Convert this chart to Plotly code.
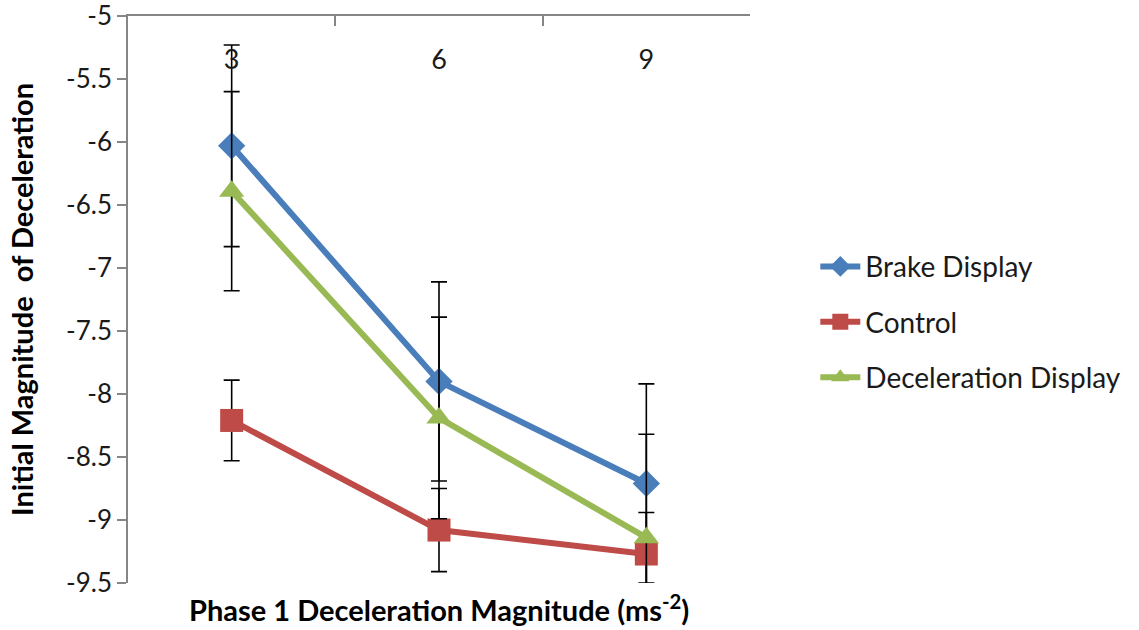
import plotly.graph_objects as go

# Phase 1 deceleration magnitudes (ms^-2)
categories = ["3", "6", "9"]

brake_display = [-6.03, -7.90, -8.71]
brake_err = [0.80, 0.79, 0.79]

control = [-8.21, -9.08, -9.27]
control_err = [0.32, 0.33, 0.33]

decel_display = [-6.39, -8.19, -9.14]
decel_err = [0.79, 0.80, 0.82]

y_ticks = [-5, -5.5, -6, -6.5, -7, -7.5, -8, -8.5, -9, -9.5]

FONT = "Lato"
TEXT = "#1a1a1a"
AXIS = "#868686"

series = [
    ("Brake Display", brake_display, brake_err, "#4a7ebb", "diamond", 21),
    ("Control", control, control_err, "#be4b48", "square", 23),
    ("Deceleration Display", decel_display, decel_err, "#98b954", "triangle-up", 22),
]

fig = go.Figure()
for i, (name, vals, err, color, symbol, msize) in enumerate(series):
    fig.add_trace(go.Scatter(
        x=categories,
        y=vals,
        name=name,
        legendgroup=f"g{i}",
        mode="lines+markers",
        line=dict(color=color, width=6),
        marker=dict(symbol=symbol, size=msize, color=color,
                    line=dict(width=0)),
        error_y=dict(type="data", array=err, visible=True,
                     color="black", thickness=1.6, width=8),
    ))

# carrier for the category labels that sit just under the top axis line
fig.add_trace(go.Scatter(
    x=categories, y=[None] * len(categories), xaxis="x2",
    showlegend=False, hoverinfo="skip", mode="markers",
))

fig.update_layout(
    width=1139,
    height=630,
    margin=dict(l=128, r=389, t=16, b=47, autoexpand=False),
    paper_bgcolor="white",
    plot_bgcolor="white",
    font=dict(family=FONT, size=24, color=TEXT),
    showlegend=True,
    legend=dict(
        x=1.105, xanchor="left",
        y=0.46, yanchor="middle",
        font=dict(size=28, color=TEXT),
        tracegroupgap=16,
        itemwidth=40,
        bgcolor="rgba(0,0,0,0)",
    ),
    xaxis=dict(
        type="category",
        side="top",
        range=[-0.5, 2.5],
        categoryarray=categories,
        showline=True,
        linecolor=AXIS,
        linewidth=1.5,
        ticks="inside",
        ticklen=10,
        tickcolor=AXIS,
        tickwidth=1.5,
        tickson="boundaries",
        showticklabels=False,
        showgrid=False,
        zeroline=False,
        automargin=False,
    ),
    xaxis2=dict(
        type="category",
        overlaying="x",
        anchor="free",
        position=0.897,
        side="top",
        range=[-0.5, 2.5],
        categoryarray=categories,
        showline=False,
        ticks="",
        showgrid=False,
        zeroline=False,
        automargin=False,
        tickfont=dict(size=27, family=FONT, color=TEXT),
    ),
    yaxis=dict(
        range=[-9.5, -5],
        tickvals=y_ticks,
        ticktext=[f"{v:g}" for v in y_ticks],
        ticklabeloverflow="allow",
        showline=True,
        linecolor=AXIS,
        linewidth=1.5,
        ticks="outside",
        ticklen=9,
        tickcolor=AXIS,
        tickwidth=1.5,
        showgrid=False,
        zeroline=False,
        automargin=False,
        tickfont=dict(size=26, family=FONT, color=TEXT),
        title=dict(
            text="<b>Initial Magnitude  of Deceleration</b>",
            font=dict(size=29, family=FONT, color="#000000"),
            standoff=24,
        ),
    ),
    annotations=[
        dict(
            text="<b>Phase 1 Deceleration Magnitude (ms<sup>-2</sup>)</b>",
            xref="paper", yref="paper",
            x=0.5, y=0, yshift=-25,
            xanchor="center", yanchor="middle",
            showarrow=False,
            font=dict(size=29, family=FONT, color="#000000"),
        )
    ],
)

fig.write_html("out.html")
